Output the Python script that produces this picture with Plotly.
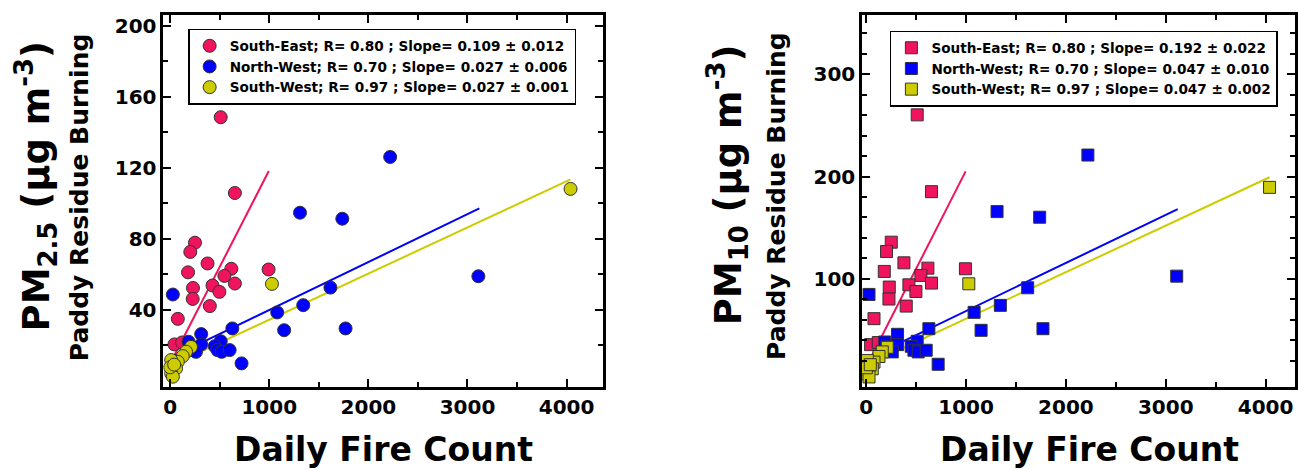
import plotly.graph_objects as go

W, H = 1298, 470

# ---------------- data ----------------
regions = ["South-East", "North-West", "South-West"]
colors = ["#F0145F", "#0000FF", "#CCCC00"]

se_fire = [510, 653, 250, 203, 377, 180, 993, 617, 547, 427, 653, 230, 497, 227, 400, 77, 43, 120]
se_pm25 = [148.4, 105.7, 77.7, 72.5, 66, 61, 62.6, 63, 59, 53.6, 54.7, 52.2, 50, 46, 42, 34.8, 20.4, 21.5]
se_pm10 = [260.3, 185.2, 135.8, 126.7, 115.6, 107.2, 109.8, 110.4, 103.3, 94.1, 95.8, 91.9, 87.6, 80.2, 73.3, 61, 35.6, 37.6]

nw_fire = [2220, 1310, 1737, 3110, 27, 1617, 1343, 1080, 1150, 1770, 627, 313, 720, 313, 510, 450, 477, 520, 600, 185, 210, 260]
nw_pm25 = [126, 94.6, 91.2, 58.8, 48.5, 52.4, 42.5, 38.4, 28.4, 29.4, 29.4, 26.2, 9.7, 20.4, 22.2, 19.4, 17.2, 16.2, 17.2, 21.9, 19, 16.2]
nw_pm10 = [221, 165.7, 160.2, 102.6, 84.7, 91.2, 74, 67.2, 49.6, 51.2, 51.2, 45.7, 16.4, 35.6, 38.9, 34, 30.1, 28.5, 30.1, 38.2, 33.3, 28.5]

sw_fire = [4040, 1027, 210, 160, 127, 77, 10, 60, 10, 27, 0, 40]
sw_pm25 = [108, 54.5, 19, 16.3, 13.8, 10.6, 11.6, 6.9, 4, 2.2, 7.5, 9]
sw_pm10 = [189.4, 95.1, 33, 28.5, 24, 18.5, 20, 12, 7, 4, 13, 16]

# regression lines (slope, intercept, x-extent)
fit_slope_pm25 = [0.109, 0.027, 0.026]
fit_icpt_pm25 = [9.6, 12.8, 8.3]
fit_slope_pm10 = [0.192, 0.047, 0.0455]
fit_icpt_pm10 = [14.0, 21.5, 15.5]
fit_xmin = [25, 25, 10]
fit_xmax = [995, 3120, 4040]

legend_pm25 = [
    "South-East; R= 0.80 ; Slope= 0.109 ± 0.012",
    "North-West; R= 0.70 ; Slope= 0.027 ± 0.006",
    "South-West; R= 0.97 ; Slope= 0.027 ± 0.001",
]
legend_pm10 = [
    "South-East; R= 0.80 ; Slope= 0.192 ± 0.022",
    "North-West; R= 0.70 ; Slope= 0.047 ± 0.010",
    "South-West; R= 0.97 ; Slope= 0.047 ± 0.002",
]

x_ticks = [0, 1000, 2000, 3000, 4000]
x_minor = [500, 1500, 2500, 3500]
y25_ticks = [40, 80, 120, 160, 200]
y25_minor = [20, 60, 100, 140, 180]
y10_ticks = [100, 200, 300]
y10_minor = [20, 40, 60, 80, 120, 140, 160, 180, 220, 240, 260, 280, 320, 340]

fires = [se_fire, nw_fire, sw_fire]
pm25 = [se_pm25, nw_pm25, sw_pm25]
pm10 = [se_pm10, nw_pm10, sw_pm10]

FONT = "DejaVu Sans"

fig = go.Figure()

for i in range(3):
    # regression lines
    xs = [fit_xmin[i], fit_xmax[i]]
    fig.add_trace(go.Scatter(
        x=xs, y=[fit_icpt_pm25[i] + fit_slope_pm25[i] * v for v in xs],
        mode="lines", line=dict(color=colors[i], width=2), showlegend=False,
        xaxis="x", yaxis="y", hoverinfo="skip"))
    fig.add_trace(go.Scatter(
        x=xs, y=[fit_icpt_pm10[i] + fit_slope_pm10[i] * v for v in xs],
        mode="lines", line=dict(color=colors[i], width=2), showlegend=False,
        xaxis="x2", yaxis="y2", hoverinfo="skip"))

for i in range(3):
    fig.add_trace(go.Scatter(
        x=fires[i], y=pm25[i], mode="markers", name=legend_pm25[i],
        legendgroup="a%d" % i, legend="legend",
        marker=dict(symbol="circle", size=13, color=colors[i],
                    line=dict(color="#333333", width=1)),
        xaxis="x", yaxis="y"))
    fig.add_trace(go.Scatter(
        x=fires[i], y=pm10[i], mode="markers", name=legend_pm10[i],
        legendgroup="b%d" % i, legend="legend2",
        marker=dict(symbol="square", size=12, color=colors[i],
                    line=dict(color="#333333", width=1)),
        xaxis="x2", yaxis="y2"))


def px(v):
    return v / W


def py(v):
    return 1 - v / H


tickfont = dict(family=FONT, size=20, color="black", weight="bold")
common = dict(showline=True, linecolor="black", linewidth=2.5, mirror="allticks",
              ticks="inside", ticklen=8, tickwidth=2, tickcolor="black",
              showgrid=False, zeroline=False, tickfont=tickfont)
minor_common = dict(ticks="inside", ticklen=5, tickwidth=2, tickcolor="black")

fig.update_layout(
    width=W, height=H, margin=dict(l=0, r=0, t=0, b=0),
    plot_bgcolor="white", paper_bgcolor="white",
    xaxis=dict(domain=[px(161), px(603)], range=[-70, 4370], anchor="y",
               tickvals=x_ticks, minor=dict(tickvals=x_minor, **minor_common),
               **common),
    yaxis=dict(domain=[py(387), py(14)], range=[-3.7, 206], anchor="x",
               tickvals=y25_ticks, minor=dict(tickvals=y25_minor, **minor_common),
               **common),
    xaxis2=dict(domain=[px(863), 1.0], range=[-43, 4295], anchor="y2",
                tickvals=x_ticks, minor=dict(tickvals=x_minor, **minor_common),
                **common),
    yaxis2=dict(domain=[py(387), py(14)], range=[-6, 358], anchor="x2",
                tickvals=y10_ticks, minor=dict(tickvals=y10_minor, **minor_common),
                **common),
    legend=dict(x=px(186), y=py(28), xanchor="left", yanchor="top",
                bordercolor="black", borderwidth=1.5, bgcolor="white",
                font=dict(family=FONT, size=13.6, color="black", weight="bold"),
                tracegroupgap=0),
    legend2=dict(x=px(891), y=py(30), xanchor="left", yanchor="top",
                 bordercolor="black", borderwidth=1.5, bgcolor="white",
                 font=dict(family=FONT, size=13.6, color="black", weight="bold"),
                 tracegroupgap=0),
)

title_font = dict(family=FONT, size=33, color="black", weight="bold")
ann = [
    dict(text="Daily Fire Count", x=px(382), y=py(449), font=title_font),
    dict(text="Daily Fire Count", x=px(1092), y=py(449), font=title_font),
    dict(text="PM<sub>2.5</sub> (µg m<sup>-3</sup>)", x=px(33), y=py(186), textangle=-90,
         font=dict(family=FONT, size=37, color="black", weight="bold")),
    dict(text="PM<sub>10</sub> (µg m<sup>-3</sup>)", x=px(728), y=py(184), textangle=-90,
         font=dict(family=FONT, size=37, color="black", weight="bold")),
    dict(text="Paddy Residue Burning", x=px(77), y=py(197), textangle=-90,
         font=dict(family=FONT, size=25, color="black", weight="bold")),
    dict(text="Paddy Residue Burning", x=px(777), y=py(195), textangle=-90,
         font=dict(family=FONT, size=25, color="black", weight="bold")),
]
for a in ann:
    fig.add_annotation(xref="paper", yref="paper", showarrow=False,
                       xanchor="center", yanchor="middle", **a)

fig.write_html("out.html")
